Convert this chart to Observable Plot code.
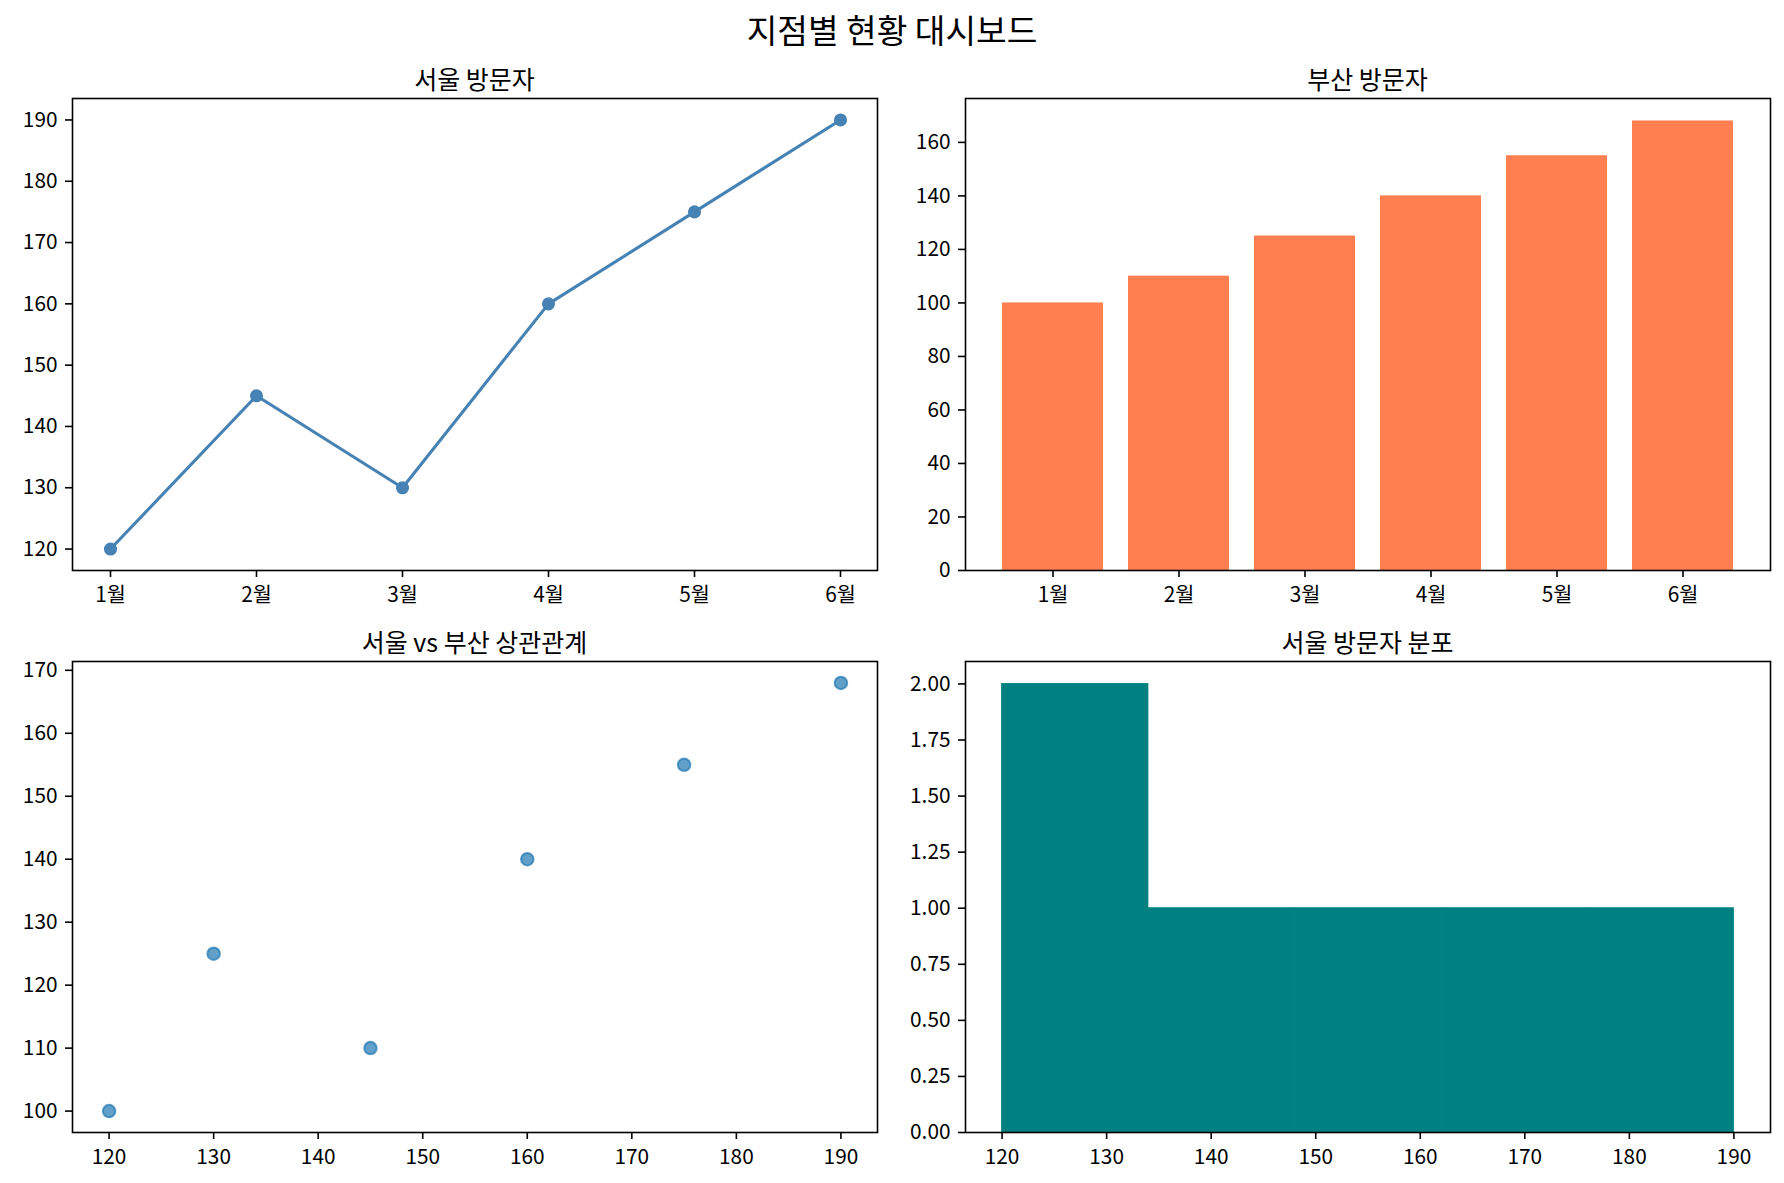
<!DOCTYPE html>
<html>
<head>
<meta charset="utf-8">
<script src="https://cdn.jsdelivr.net/npm/d3@7"></script>
<script src="https://cdn.jsdelivr.net/npm/@observablehq/plot@0.6"></script>
<style>
  body { margin: 0; background: #fff; }
  #fig { position: relative; width: 1784px; height: 1183px; background: #fff; overflow: hidden;
         font-family: "Noto Sans CJK KR", "Noto Sans", sans-serif; color: #000; }
  .t { position: absolute; white-space: nowrap; transform: translate(-50%, -50%); line-height: 1; }
  #fig svg { position: absolute; }
</style>
</head>
<body>
<div id="fig"></div>
<script>
// Monthly visitors per branch
const months = ["1월", "2월", "3월", "4월", "5월", "6월"];
const seoul = [120, 145, 130, 160, 175, 190];
const busan = [100, 110, 125, 140, 155, 168];

// Tick values
const seoulTicks = [120, 130, 140, 150, 160, 170, 180, 190];
const busanTicks = [0, 20, 40, 60, 80, 100, 120, 140, 160];
const scatterXTicks = [120, 130, 140, 150, 160, 170, 180, 190];
const scatterYTicks = [100, 110, 120, 130, 140, 150, 160, 170];
const histYTicks = [0, 0.25, 0.5, 0.75, 1, 1.25, 1.5, 1.75, 2];
const histBinCount = 5;

// Titles
const suptitle = "지점별 현황 대시보드";
const panelTitles = ["서울 방문자", "부산 방문자", "서울 vs 부산 상관관계", "서울 방문자 분포"];

const fig = document.getElementById("fig");

// Panel geometry (frame box in page pixels)
const FW = 805;
const panels = [
  { left: 72,  top: 98,  h: 472 },
  { left: 965, top: 98,  h: 472 },
  { left: 72,  top: 661, h: 471 },
  { left: 965, top: 661, h: 471 }
];
const ML = 70, MT = 10, MR = 10, MB = 48;
const LW = 1.6;

function place(svg, p) {
  svg.style.left = (p.left - ML) + "px";
  svg.style.top = (p.top - MT) + "px";
  fig.appendChild(svg);
}

function addText(str, x, y, size) {
  const d = document.createElement("div");
  d.className = "t";
  d.textContent = str;
  d.style.left = x + "px";
  d.style.top = y + "px";
  d.style.fontSize = size + "px";
  fig.appendChild(d);
}

const baseStyle = {
  fontFamily: '"Noto Sans CJK KR", "Noto Sans", sans-serif',
  fontSize: "20.8px",
  color: "black",
  background: "transparent",
  overflow: "visible"
};

function common(p) {
  return {
    width: ML + FW + MR,
    height: MT + p.h + MB,
    marginLeft: ML, marginRight: MR, marginTop: MT, marginBottom: MB,
    style: baseStyle
  };
}

const axisXOpts = { tickSize: 7, tickPadding: 10, strokeWidth: LW, label: null };
const axisYOpts = { tickSize: 7, tickPadding: 8, strokeWidth: LW, label: null };

// Seoul line chart
const seoulData = months.map((m, i) => ({ month: m, value: seoul[i] }));
place(Plot.plot({
  ...common(panels[0]),
  x: { type: "point", domain: months, padding: 0.25 },
  y: { domain: [116.5, 193.5] },
  marks: [
    Plot.line(seoulData, { x: "month", y: "value", stroke: "steelblue", strokeWidth: 3.1 }),
    Plot.dot(seoulData, { x: "month", y: "value", r: 5.8, fill: "steelblue", stroke: "steelblue", strokeWidth: 1.5 }),
    Plot.axisX({ ...axisXOpts }),
    Plot.axisY({ ...axisYOpts, ticks: seoulTicks }),
    Plot.frame({ stroke: "black", strokeWidth: LW })
  ]
}), panels[0]);

// Busan bar chart
const busanData = months.map((m, i) => ({ month: m, value: busan[i] }));
place(Plot.plot({
  ...common(panels[1]),
  x: { type: "band", domain: months, paddingInner: 0.2, paddingOuter: 0.29 },
  y: { domain: [0, d3.max(busan) * 1.05] },
  marks: [
    Plot.barY(busanData, { x: "month", y: "value", fill: "coral" }),
    Plot.axisX({ ...axisXOpts }),
    Plot.axisY({ ...axisYOpts, ticks: busanTicks }),
    Plot.frame({ stroke: "black", strokeWidth: LW })
  ]
}), panels[1]);

// Seoul vs Busan scatter
const pairs = seoul.map((s, i) => ({ seoul: s, busan: busan[i] }));
place(Plot.plot({
  ...common(panels[2]),
  x: { domain: [116.5, 193.5] },
  y: { domain: [96.6, 171.4] },
  marks: [
    Plot.dot(pairs, { x: "seoul", y: "busan", r: 6.25, fill: "#1f77b4", fillOpacity: 0.7,
                      stroke: "#1f77b4", strokeOpacity: 0.7, strokeWidth: 2 }),
    Plot.axisX({ ...axisXOpts, ticks: scatterXTicks }),
    Plot.axisY({ ...axisYOpts, ticks: scatterYTicks }),
    Plot.frame({ stroke: "black", strokeWidth: LW })
  ]
}), panels[2]);

// Seoul distribution histogram (equal-width bins over the data range)
const [lo, hi] = d3.extent(seoul);
const step = (hi - lo) / histBinCount;
const thresholds = d3.range(1, histBinCount).map(k => lo + k * step);
const bins = d3.bin().domain([lo, hi]).thresholds(thresholds)(seoul);
place(Plot.plot({
  ...common(panels[3]),
  x: { domain: [116.5, 193.5] },
  y: { domain: [0, 2.1] },
  marks: [
    Plot.rectY(bins, { x1: "x0", x2: "x1", y1: 0, y2: d => d.length, fill: "teal",
                       stroke: "teal", strokeWidth: 0.8 }),
    Plot.axisX({ ...axisXOpts, ticks: scatterXTicks }),
    Plot.axisY({ ...axisYOpts, ticks: histYTicks, tickFormat: d3.format(".2f") }),
    Plot.frame({ stroke: "black", strokeWidth: LW })
  ]
}), panels[3]);

// Titles
addText(suptitle, 892, 29, 33.3);
addText(panelTitles[0], panels[0].left + FW / 2, 78, 25);
addText(panelTitles[1], panels[1].left + FW / 2, 78, 25);
addText(panelTitles[2], panels[2].left + FW / 2, 641, 25);
addText(panelTitles[3], panels[3].left + FW / 2, 641, 25);
</script>
</body>
</html>
